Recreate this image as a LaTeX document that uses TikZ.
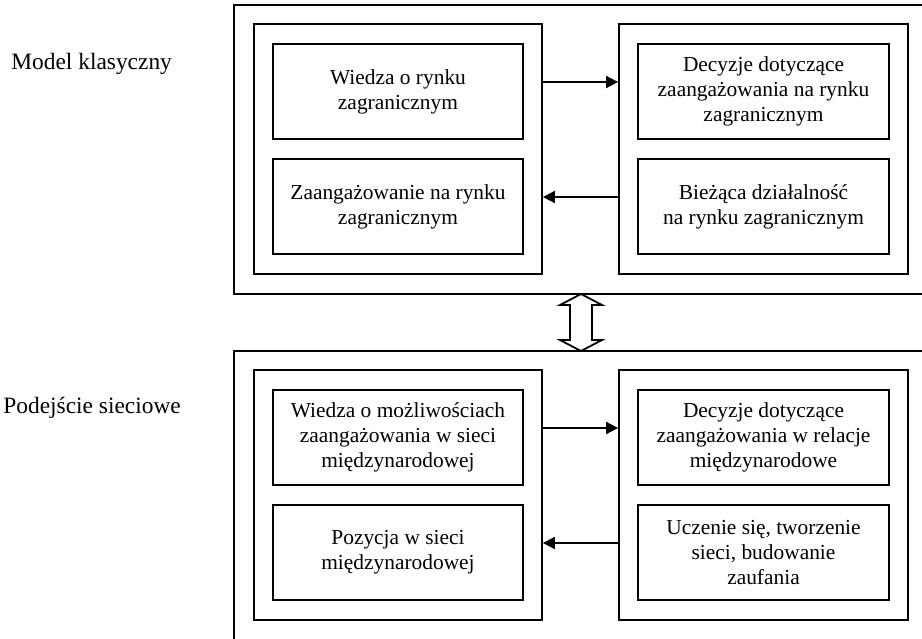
\documentclass[tikz,border=0pt]{standalone}
\usepackage{fontspec}
\setmainfont{Liberation Serif}
\usetikzlibrary{arrows.meta}

\tikzset{
  outerbox/.style={draw, line width=0.9pt},
  groupbox/.style={rectangle, draw, line width=0.9pt, minimum width=144pt, minimum height=125pt, inner sep=0pt},
  itembox/.style={rectangle, draw, line width=0.9pt, minimum width=125pt, minimum height=47.5pt, inner sep=0pt, align=center, font=\fontsize{10.7}{12.5}\selectfont},
  flow/.style={-{Triangle[length=6pt,width=6pt]}, line width=0.9pt},
  sidelabel/.style={anchor=west, inner sep=0pt, font=\fontsize{11.7}{14}\selectfont}
}

\begin{document}
\begin{tikzpicture}[x=0.5pt,y=-0.5pt]
\useasboundingbox (0,0) rectangle (922,638);

% outer frames (cut by the page edge)
\begin{scope}
\clip (0,0) rectangle (922,638);
\draw[outerbox] (234,5) rectangle (980,294);
\draw[outerbox] (234,351) rectangle (980,720);
\end{scope}
\coordinate (classicBottom) at (581,294);
\coordinate (networkTop) at (581,351);

\node[sidelabel] (classicLabel) at (11,64) {Model klasyczny};
\node[sidelabel] (networkLabel) at (3,408) {Podejście sieciowe};

% model klasyczny
\node[groupbox] (classicL) at (398,149) {};
\node[groupbox, minimum width=144.5pt] (classicR) at (763.5,149) {};
\node[itembox] (knowMarket) at (398,91.5) {Wiedza o rynku\\zagranicznym};
\node[itembox] (commitMarket) at (398,206.5) {Zaangażowanie na rynku\\zagranicznym};
\node[itembox, minimum width=125.5pt] (decideMarket) at (763.5,91.5) {Decyzje dotyczące\\zaangażowania na rynku\\zagranicznym};
\node[itembox, minimum width=125.5pt] (activityMarket) at (763.5,206.5) {Bieżąca działalność\\na rynku zagranicznym};

% podejscie sieciowe
\node[groupbox] (networkL) at (398,495) {};
\node[groupbox, minimum width=144.5pt] (networkR) at (763.5,495) {};
\node[itembox] (knowNet) at (398,437.5) {Wiedza o możliwościach\\zaangażowania w sieci\\międzynarodowej};
\node[itembox] (positionNet) at (398,552.5) {Pozycja w sieci\\międzynarodowej};
\node[itembox, minimum width=125.5pt] (decideNet) at (763.5,437.5) {Decyzje dotyczące\\zaangażowania w relacje\\międzynarodowe};
\node[itembox, minimum width=125.5pt] (learnNet) at (763.5,552.5) {Uczenie się, tworzenie\\sieci, budowanie\\zaufania};

% arrows between the groups
\coordinate (row1) at ([yshift=4.75pt]knowMarket.center);
\coordinate (row2) at ([yshift=4.75pt]commitMarket.center);
\coordinate (row3) at ([yshift=4.75pt]knowNet.center);
\coordinate (row4) at ([yshift=4.75pt]positionNet.center);
\draw[flow] (classicL.east |- row1) -- (classicR.west |- row1);
\draw[flow] (classicR.west |- row2) -- (classicL.east |- row2);
\draw[flow] (networkL.east |- row3) -- (networkR.west |- row3);
\draw[flow] (networkR.west |- row4) -- (networkL.east |- row4);

% double arrow between the frames
\draw[line width=0.9pt, fill=white] (classicBottom) -- ++(21,11) -- ++(-10,0) -- ++(0,35) -- ++(10,0)
  -- (networkTop) -- ++(-21,-11) -- ++(10,0) -- ++(0,-35) -- ++(-10,0) -- cycle;
\end{tikzpicture}
\end{document}
